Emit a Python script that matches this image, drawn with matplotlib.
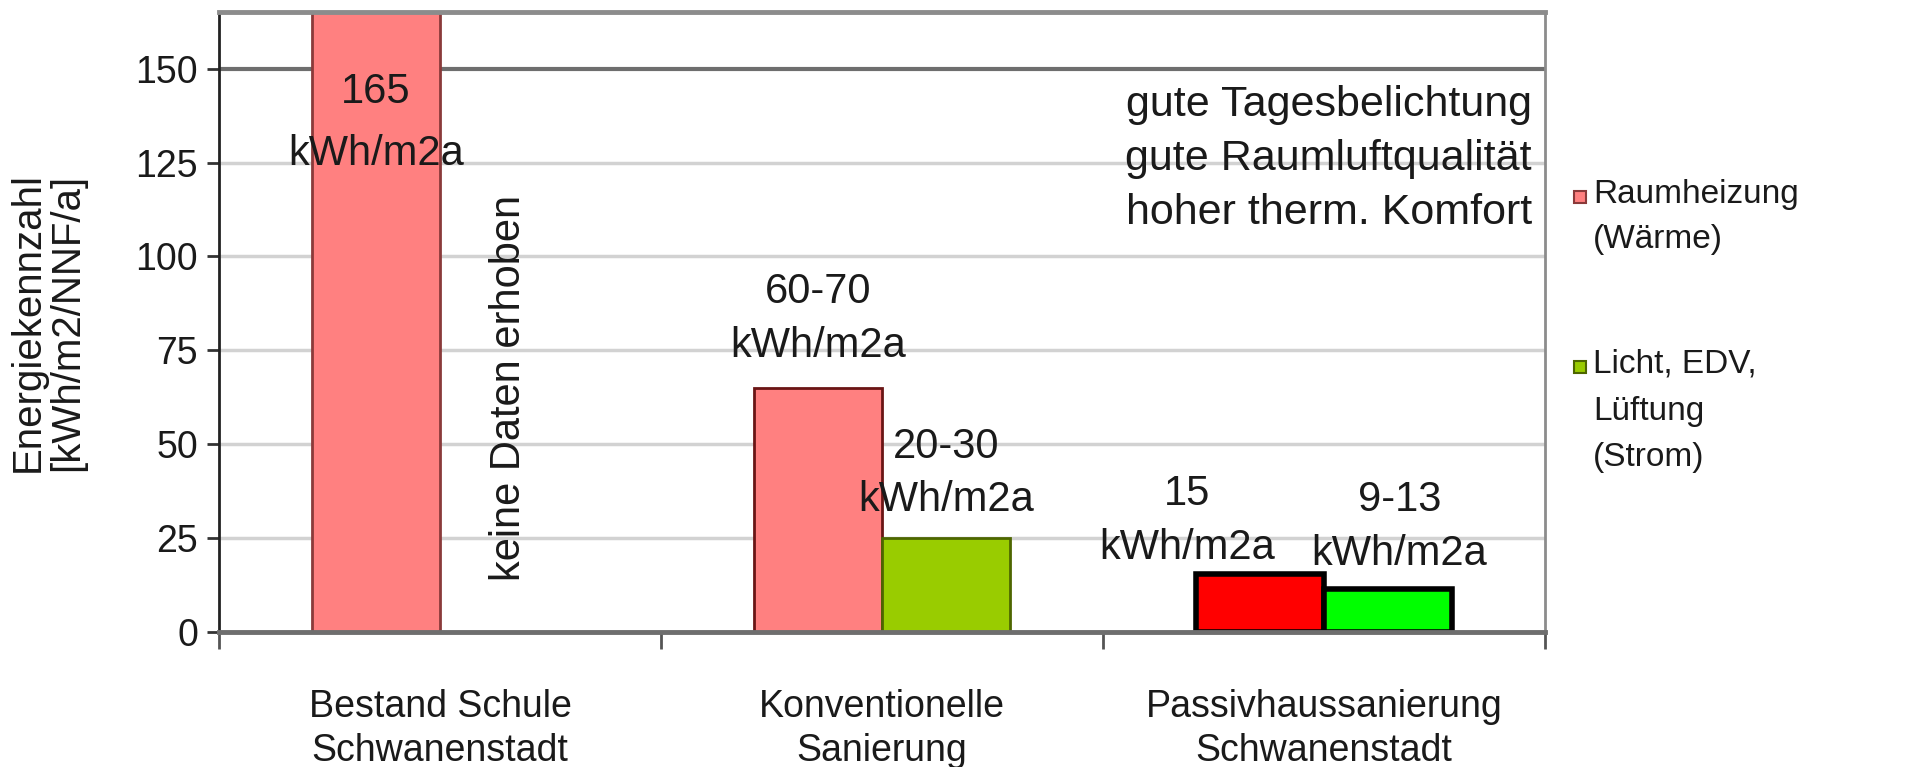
import matplotlib
matplotlib.use("Agg")
import matplotlib.pyplot as plt
import matplotlib.patches as mpatches
import numpy as np

plt.rcParams['font.family'] = ['Liberation Sans', 'DejaVu Sans']

# data
categories = ["Bestand Schule\nSchwanenstadt", "Konventionelle\nSanierung",
              "Passivhaussanierung\nSchwanenstadt"]
raumheizung = [165, 65, 15.5]
strom = [np.nan, 25, 11.5]
yticks = [0, 25, 50, 75, 100, 125, 150]
series_names = ["Raumheizung\n(Wärme)", "Licht, EDV,\nLüftung\n(Strom)"]

# styles
heat_colors = ['#FF8080', '#FF8080', '#FF0000']
heat_edges = ['#8a3a3a', '#6a1515', '#000000']
strom_colors = ['#99CC00', '#99CC00', '#00FF00']
strom_edges = ['#4d6600', '#4d6600', '#000000']
bar_lw = [2, 2, 4]

fig = plt.figure(figsize=(19.1, 7.67), dpi=100)
ax = fig.add_axes([0.1147, 0.176, 0.809 - 0.1147, 0.984 - 0.176])

x = np.arange(len(categories))
w = 0.29
ax.bar(x - w / 2, raumheizung, w, color=heat_colors, edgecolor=heat_edges, linewidth=bar_lw)
ax.bar(x + w / 2, strom, w, color=strom_colors, edgecolor=strom_edges, linewidth=bar_lw)

ax.set_xlim(-0.5, 2.5)
ax.set_ylim(0, 165)
ax.set_yticks(yticks)
ax.set_axisbelow(True)
ax.yaxis.grid(True, color='#d2d2d2', linewidth=2.5)
for line, t in zip(ax.get_ygridlines(), yticks):
    if t == 150:
        line.set_color('#6e6e6e')
        line.set_linewidth(3)

ax.set_xticks(x)
ax.set_xticklabels(categories, fontsize=27, color='#1a1a1a', linespacing=1.3)
ax.set_xticks(np.arange(-0.5, 3, 1), minor=True)
ax.tick_params(axis='x', which='major', length=0, pad=41)
ax.tick_params(axis='x', which='minor', length=12, width=2, color='#555555')
ax.tick_params(axis='y', length=9, width=2, color='#333333', pad=6, labelsize=27,
               labelcolor='#1a1a1a')

ax.spines['top'].set_color('#8c8c8c')
ax.spines['top'].set_linewidth(3.5)
ax.spines['right'].set_color('#8c8c8c')
ax.spines['right'].set_linewidth(2)
ax.spines['left'].set_color('#222222')
ax.spines['left'].set_linewidth(2)
ax.spines['bottom'].set_color('#6e6e6e')
ax.spines['bottom'].set_linewidth(3.5)

# annotations
ann = dict(fontsize=30, color='#1a1a1a', ha='center', va='center', linespacing=1.45)
ax.text(-w / 2, 135.5, "165\nkWh/m2a", **dict(ann, linespacing=1.7))
ax.text(1 - w / 2, 83.3, "60-70\nkWh/m2a", **ann)
ax.text(1 + w / 2, 42.2, "20-30\nkWh/m2a", **ann)
ax.text(1.69, 29.5, "15\nkWh/m2a", **ann)
ax.text(2.17, 28.0, "9-13\nkWh/m2a", **ann)
ax.text(0.156, 65, "keine Daten erhoben", fontsize=30, color='#1a1a1a', rotation=90,
        ha='center', va='center')
ax.text(2.47, 126.0, "gute Tagesbelichtung\ngute Raumluftqualität\nhoher therm. Komfort",
        fontsize=31, color='#1a1a1a', ha='right', va='center', multialignment='right',
        linespacing=1.45)

fig.text(47.5 / 1910, 1 - 322 / 767, "Energiekennzahl\n[kWh/m2/NNF/a]", rotation=90,
         ha='center', va='center', fontsize=29, color='#1a1a1a', linespacing=1.05)

# legend drawn by hand so the square sits on the first text line
leg_y = [197, 367]
leg_ls = [1.6, 1.65]
for name, fc, ec, py, ls in zip(series_names, [heat_colors[0], strom_colors[0]],
                                [heat_edges[0], strom_edges[0]], leg_y, leg_ls):
    fig.patches.append(mpatches.Rectangle((1574 / 1910, 1 - (py + 6) / 767), 12 / 1910, 12 / 767,
                                          transform=fig.transFigure, facecolor=fc,
                                          edgecolor=ec, linewidth=1.5))
    fig.text(1593 / 1910, 1 - (py - 18) / 767, name, ha='left', va='top', fontsize=24,
             color='#1a1a1a', linespacing=ls)

fig.savefig("out.png", dpi=100)
